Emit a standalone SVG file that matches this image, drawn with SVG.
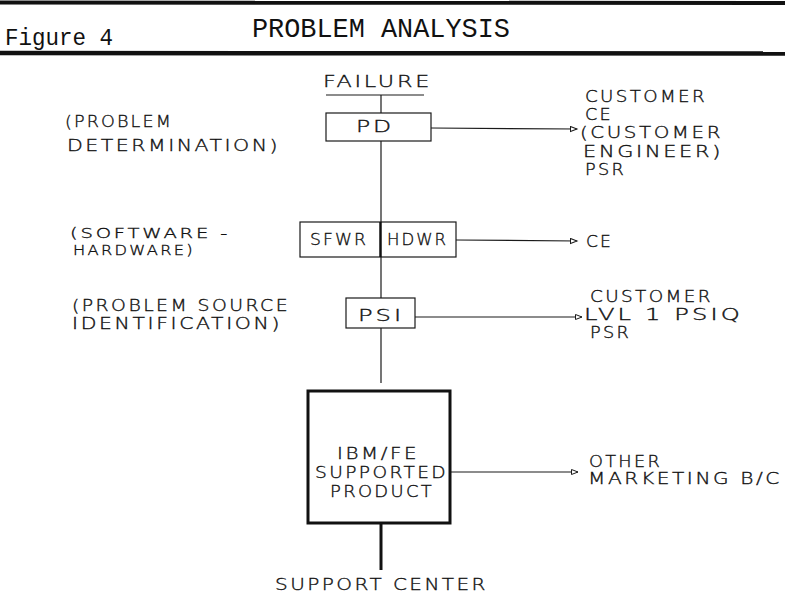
<svg xmlns="http://www.w3.org/2000/svg" width="785" height="596" viewBox="0 0 785 596">
<defs>
<style>
.t{font-family:"DejaVu Sans","Liberation Sans",sans-serif;font-size:16.5px;font-weight:200;letter-spacing:2px;fill:#111;stroke:#111;stroke-width:0.35;}
.m{font-size:15.5px;}
.s{font-size:14px;}
.h{font-family:"Liberation Mono","DejaVu Sans Mono",monospace;fill:#111;}
.ln{stroke:#1a1a1a;stroke-width:1.2;fill:none;}
.bx{stroke:#1a1a1a;stroke-width:1.2;fill:none;}
.thick{stroke:#111;stroke-width:3;fill:none;}
</style>
<marker id="ah" markerWidth="9" markerHeight="8" refX="7" refY="3" orient="auto" markerUnits="userSpaceOnUse">
<path d="M0.5,0.5 L7,3 L0.5,5.5 Z" fill="#fff" stroke="#1a1a1a" stroke-width="1"/>
</marker>
</defs>
<rect width="785" height="596" fill="#fff"/>

<g id="header">
<line x1="0" y1="2.5" x2="785" y2="3" stroke="#111" stroke-width="4"/>
<text class="h" x="5" y="45" font-size="24" textLength="108" lengthAdjust="spacingAndGlyphs">Figure 4</text>
<text class="h" x="252" y="37" font-size="27" textLength="258" lengthAdjust="spacingAndGlyphs">PROBLEM ANALYSIS</text>
<line x1="0" y1="53" x2="785" y2="53.5" stroke="#111" stroke-width="4.5"/>
</g>

<g id="connectors">
<line class="ln" x1="326" y1="95" x2="424" y2="95"/>
<line class="ln" x1="381" y1="95" x2="381" y2="113"/>
<line class="ln" x1="381" y1="141" x2="381" y2="222"/>
<line class="ln" x1="381" y1="257" x2="381" y2="298"/>
<line class="ln" x1="381" y1="328" x2="381" y2="383"/>
<line class="thick" x1="381" y1="523" x2="381" y2="570"/>
<line class="ln" x1="431" y1="128" x2="577" y2="129" marker-end="url(#ah)"/>
<line class="ln" x1="456" y1="240" x2="577" y2="241" marker-end="url(#ah)"/>
<line class="ln" x1="415" y1="317" x2="582" y2="317" marker-end="url(#ah)"/>
<line class="ln" x1="451" y1="472" x2="578" y2="472" stroke-width="1.6" marker-end="url(#ah)"/>
</g>

<g id="failure">
<text class="t" x="323" y="87" textLength="109" lengthAdjust="spacingAndGlyphs">FAILURE</text>
</g>

<g id="pd">
<rect class="bx" x="326" y="113" width="105" height="28"/>
<text class="t" x="356" y="132" textLength="38" lengthAdjust="spacingAndGlyphs">PD</text>
</g>

<g id="pd-label">
<text class="t" x="65" y="127" textLength="108" lengthAdjust="spacingAndGlyphs">(PROBLEM</text>
<text class="t" x="67" y="151" textLength="213" lengthAdjust="spacingAndGlyphs">DETERMINATION)</text>
</g>

<g id="pd-target">
<text class="t m" x="585" y="102" textLength="122" lengthAdjust="spacingAndGlyphs">CUSTOMER</text>
<text class="t m" x="585" y="120" textLength="28" lengthAdjust="spacingAndGlyphs">CE</text>
<text class="t m" x="580" y="138" textLength="143" lengthAdjust="spacingAndGlyphs">(CUSTOMER</text>
<text class="t m" x="583" y="157" textLength="140" lengthAdjust="spacingAndGlyphs">ENGINEER)</text>
<text class="t m" x="585" y="175" textLength="41" lengthAdjust="spacingAndGlyphs">PSR</text>
</g>

<g id="sfwr-hdwr">
<rect class="bx" x="300" y="222" width="156" height="35"/>
<line x1="380.5" y1="222" x2="380.5" y2="257" stroke="#111" stroke-width="2.5"/>
<text class="t" x="310" y="245" textLength="58" lengthAdjust="spacingAndGlyphs">SFWR</text>
<text class="t" x="387" y="245" textLength="61" lengthAdjust="spacingAndGlyphs">HDWR</text>
</g>

<g id="sw-label">
<text class="t s" x="70" y="238" textLength="160" lengthAdjust="spacingAndGlyphs">(SOFTWARE  -</text>
<text class="t s" x="73" y="255" textLength="122" lengthAdjust="spacingAndGlyphs">HARDWARE)</text>
</g>

<g id="ce-target">
<text class="t" x="586" y="247" textLength="27" lengthAdjust="spacingAndGlyphs">CE</text>
</g>

<g id="psi">
<rect class="bx" x="346" y="298" width="69" height="30"/>
<text class="t" x="358" y="321" textLength="46" lengthAdjust="spacingAndGlyphs">PSI</text>
</g>

<g id="psi-label">
<text class="t m" x="72" y="311" textLength="218" lengthAdjust="spacingAndGlyphs">(PROBLEM SOURCE</text>
<text class="t m" x="72" y="329" textLength="210" lengthAdjust="spacingAndGlyphs">IDENTIFICATION)</text>
</g>

<g id="psi-target">
<text class="t m" x="590" y="302" textLength="123" lengthAdjust="spacingAndGlyphs">CUSTOMER</text>
<text class="t m" x="584" y="320" textLength="159" lengthAdjust="spacingAndGlyphs">LVL  1  PSIQ</text>
<text class="t m" x="590" y="338" textLength="41" lengthAdjust="spacingAndGlyphs">PSR</text>
</g>

<g id="product">
<rect x="308" y="391" width="142" height="132" fill="none" stroke="#111" stroke-width="3"/>
<text class="t m" x="337" y="459" textLength="82" lengthAdjust="spacingAndGlyphs">IBM/FE</text>
<text class="t m" x="315" y="478" textLength="133" lengthAdjust="spacingAndGlyphs">SUPPORTED</text>
<text class="t m" x="330" y="497" textLength="104" lengthAdjust="spacingAndGlyphs">PRODUCT</text>
</g>

<g id="product-target">
<text class="t m" x="589" y="467" textLength="73" lengthAdjust="spacingAndGlyphs">OTHER</text>
<text class="t m" x="588" y="484" textLength="194" lengthAdjust="spacingAndGlyphs">MARKETING B/C</text>
</g>

<g id="support-center">
<text class="t" x="275" y="590" textLength="213" lengthAdjust="spacingAndGlyphs">SUPPORT CENTER</text>
</g>
</svg>
